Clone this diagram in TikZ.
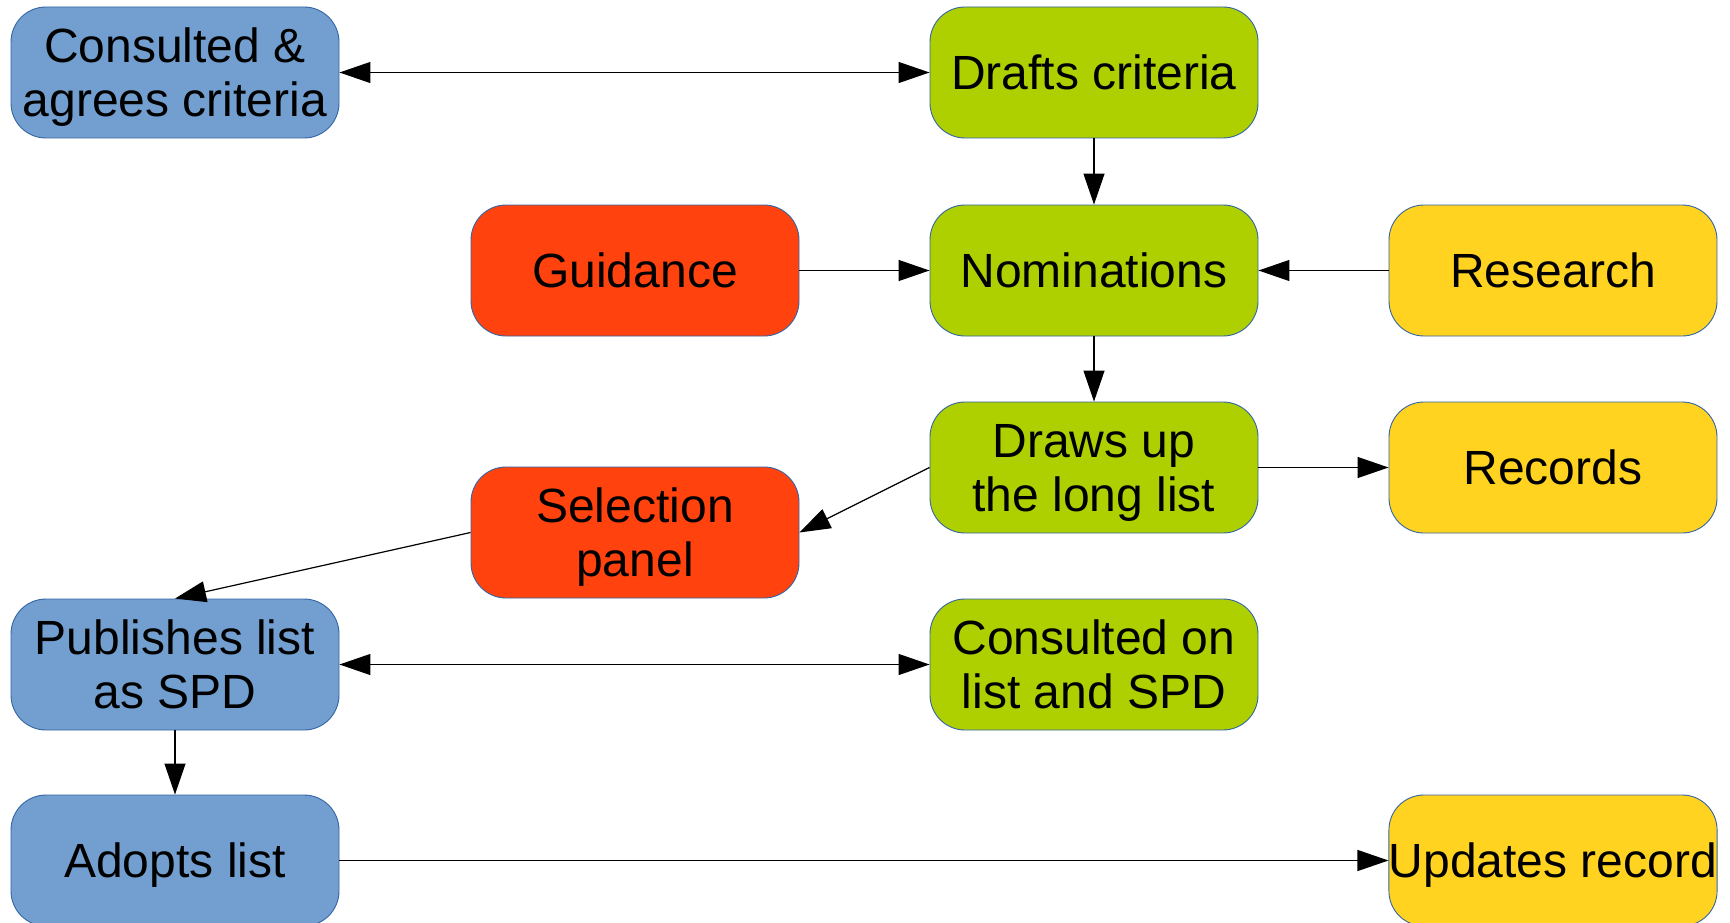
\documentclass[tikz,border=0pt]{standalone}
\usepackage{fontspec}
\setmainfont{Liberation Sans}
\usetikzlibrary{arrows.meta}
\definecolor{cblue}{HTML}{729FCF}
\definecolor{cgreen}{HTML}{AECF00}
\definecolor{cred}{HTML}{FF420E}
\definecolor{cyellow}{HTML}{FFD320}
\definecolor{cborder}{HTML}{3465A4}
\newcommand{\mystrut}{\rule[-0.212em]{0pt}{1.117em}}
\tikzset{
  box/.style={rectangle, rounded corners=35pt, draw=cborder, line width=0.9pt,
    minimum width=328pt, minimum height=131pt, inner sep=0pt, align=center,
    font=\fontsize{48}{54}\selectfont, text=black},
  bluebox/.style={box, fill=cblue},
  greenbox/.style={box, fill=cgreen},
  redbox/.style={box, fill=cred},
  yellowbox/.style={box, fill=cyellow},
  conn/.style={draw=black, line width=1.2pt, -{Triangle[length=31pt,width=21pt]}},
  biconn/.style={draw=black, line width=1.2pt, {Triangle[length=31pt,width=21pt]}-{Triangle[length=31pt,width=21pt]}}
}
\begin{document}
\begin{tikzpicture}[x=1pt,y=-1pt]
\useasboundingbox (0,0) rectangle (1730,923);
\clip (0,0) rectangle (1730,923);
\fill[white] (0,0) rectangle (1730,923);
\node[bluebox] (consult) at (175,72.5) {\mystrut Consulted \&\\\mystrut agrees criteria};
\node[greenbox] (drafts) at (1094,72.5) {\mystrut Drafts criteria};
\node[redbox] (guid) at (635,270.5) {\mystrut Guidance};
\node[greenbox] (nom) at (1094,270.5) {\mystrut Nominations};
\node[yellowbox] (res) at (1553,270.5) {\mystrut Research};
\node[greenbox] (draws) at (1094,467.5) {\mystrut Draws up\\\mystrut the long list};
\node[yellowbox] (rec) at (1553,467.5) {\mystrut Records};
\node[redbox] (sel) at (635,532.5) {\mystrut Selection\\\mystrut panel};
\node[bluebox] (pub) at (175,664.5) {\mystrut Publishes list\\\mystrut as SPD};
\node[greenbox] (conson) at (1094,664.5) {\mystrut Consulted on\\\mystrut list and SPD};
\node[bluebox] (adopt) at (175,860.5) {\mystrut Adopts list};
\node[yellowbox] (upd) at (1553,860.5) {\mystrut Updates record};
\draw[biconn] (consult.east) -- (drafts.west);
\draw[conn] (drafts.south) -- (nom.north);
\draw[conn] (guid.east) -- (nom.west);
\draw[conn] (res.west) -- (nom.east);
\draw[conn] (nom.south) -- (draws.north);
\draw[conn] (draws.east) -- (rec.west);
\draw[conn] (draws.west) -- (sel.east);
\draw[conn] (sel.west) -- (pub.north);
\draw[biconn] (pub.east) -- (conson.west);
\draw[conn] (pub.south) -- (adopt.north);
\draw[conn] (adopt.east) -- (upd.west);
\end{tikzpicture}
\end{document}
